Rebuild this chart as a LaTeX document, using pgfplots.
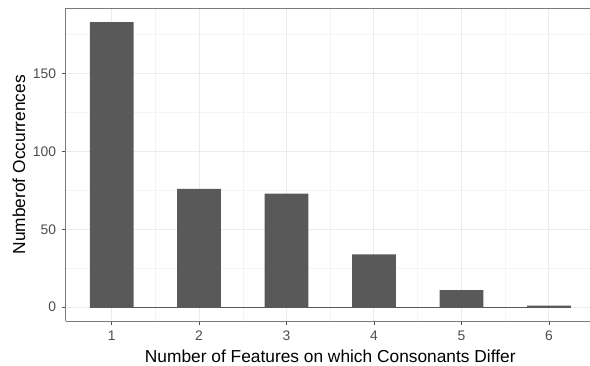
\documentclass[border=0pt]{standalone}
\usepackage{pgfplots}
\pgfplotsset{compat=1.18}
\usepackage{fontspec}
\setmainfont{Liberation Sans}
\definecolor{barcol}{HTML}{595959}
\definecolor{gridmaj}{HTML}{EBEBEB}
\definecolor{gridmin}{HTML}{F4F4F4}
\definecolor{ticklab}{HTML}{4D4D4D}
\definecolor{framecol}{HTML}{7A7A7A}
\begin{document}
\begin{tikzpicture}
\useasboundingbox (-49.3pt,-33.4pt) rectangle (393.2pt,241.1pt);
\begin{axis}[
  at={(0,0)}, anchor=south west, scale only axis,
  width=393.2pt, height=235.1pt,
  xmin=0.475, xmax=6.47, ymin=-9.15, ymax=192.15,
  xtick={1,2,3,4,5,6}, ytick={0,50,100,150},
  minor xtick={1.5,2.5,3.5,4.5,5.5}, minor ytick={25,75,125,175},
  grid=both,
  major grid style={gridmaj, line width=0.75pt},
  minor grid style={gridmin, line width=0.4pt},
  axis line style={draw=none},
  tick align=outside, major tick length=2.75pt, minor tick length=0pt,
  major tick style={ticklab, line width=0.5pt},
  xtick pos=lower, ytick pos=left,
  /pgf/number format/assume math mode=true,
  ticklabel style={font=\fontsize{10.4}{12}\selectfont, text=ticklab},
  xticklabel style={anchor=base, yshift=-11.8pt},
  yticklabel style={anchor=east, xshift=-1pt},
  xlabel={Number of Features on which Consonants Differ},
  ylabel={Numberof Occurrences},
  label style={font=\fontsize{13}{15}\selectfont},
  xlabel style={at={([yshift=-31.1pt]axis description cs:0.5046,0)}, anchor=base},
  ylabel style={at={([xshift=-30.5pt]axis description cs:0,0.5)}, anchor=base},
  clip=false,
  ybar, bar width=0.5,
]
\addplot[ybar, fill=barcol, draw=none, bar shift=0pt] coordinates {(1,183) (2,76) (3,73) (4,34) (5,11) (6,1)};
\addplot[sharp plot, barcol, line width=0.7pt] coordinates {(0.75,0) (6.25,0)};
\draw[framecol, line width=0.6pt] (rel axis cs:0,0) -- (rel axis cs:1,0);
\draw[framecol, line width=0.6pt] (rel axis cs:0,0) -- (rel axis cs:0,1) -- (rel axis cs:1,1);
\end{axis}
\end{tikzpicture}
\end{document}
